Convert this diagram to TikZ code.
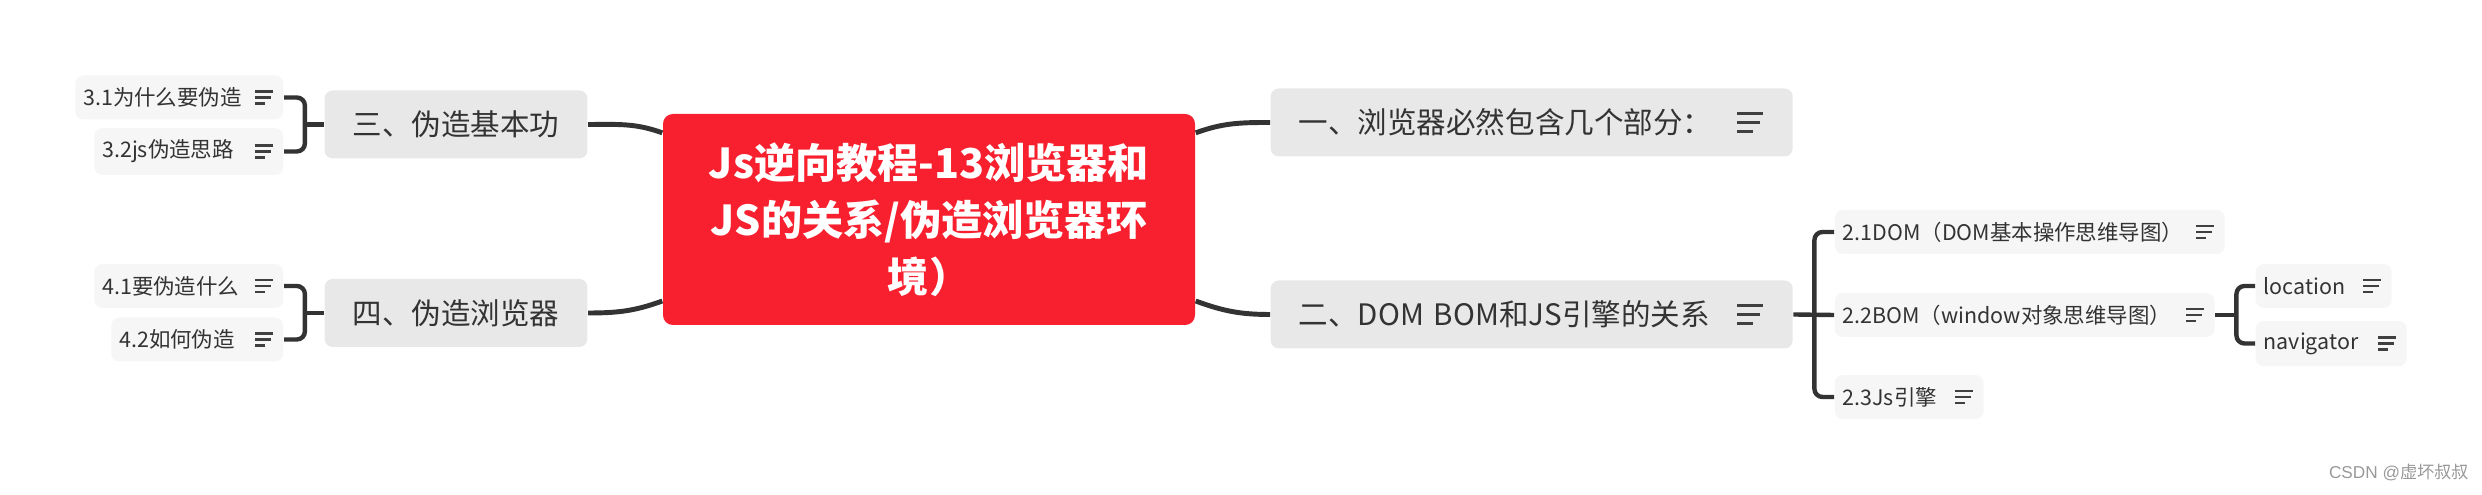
\documentclass[tikz,border=0pt]{standalone}
\usepackage{fontspec}
\setmainfont{Noto Sans CJK SC}
\newfontfamily\wmfont{Liberation Sans}
\usepackage{tikz}
\usetikzlibrary{positioning,calc}
\usepackage{xcolor}
\definecolor{rootred}{RGB}{248,32,47}
\definecolor{topicgray}{RGB}{232,232,232}
\definecolor{subgray}{RGB}{246,246,246}
\definecolor{linedark}{RGB}{51,51,51}
\definecolor{textdark}{RGB}{51,51,51}
\definecolor{markgray}{RGB}{64,64,64}
\newdimen\unitpx \unitpx=0.01cm
% note marks at the right end of a box
\newcommand{\topicnote}[1]{\draw[notemark, line width=0.75pt]
  ($(#1.east)+(-56,9)$) -- ++(26,0) ($(#1.east)+(-56,0)$) -- ++(23,0) ($(#1.east)+(-56,-9)$) -- ++(16,0);}
\newcommand{\subnote}[1]{\draw[notemark, line width=0.65pt]
  ($(#1.east)+(-29,6)$) -- ++(18,0) ($(#1.east)+(-29,0)$) -- ++(16,0) ($(#1.east)+(-29,-6)$) -- ++(10,0);}
\begin{document}
\begin{tikzpicture}[x=0.01cm,y=0.01cm,
  mainbox/.style={fill=rootred, rounded corners=2.8pt, text=white, align=center,
    font=\fontsize{11.7}{16.2}\selectfont\bfseries, minimum width=532\unitpx, minimum height=211\unitpx},
  topic/.style={fill=topicgray, rounded corners=2.3pt, text=textdark,
    font=\fontsize{8.4}{10}\selectfont, minimum height=68\unitpx, inner xsep=28\unitpx},
  subtopic/.style={fill=subgray, rounded corners=2.3pt, text=textdark, align=left,
    font=\fontsize{6.1}{7.5}\selectfont, minimum height=44\unitpx, inner xsep=8\unitpx},
  branch/.style={draw=linedark, line width=1.4pt},
  bracket/.style={draw=linedark, line width=1.25pt, rounded corners=2.3pt},
  notemark/.style={draw=markgray}]
\useasboundingbox (0,0) rectangle (2482,-495);

% centre
\node[mainbox] (root) at (929,-219.5) {Js逆向教程-13浏览器和\\JS的关系/伪造浏览器环\\境）};

% first level
\node[topic, anchor=west, text width=466\unitpx, align=left] (one) at (1270,-122.5) {一、浏览器必然包含几个部分：};
\node[topic, anchor=west, text width=466\unitpx, align=left] (two) at (1270,-314.5) {二、DOM BOM和JS引擎的关系};
\node[topic, minimum width=262\unitpx] (three) at (456,-124.5) {三、伪造基本功};
\node[topic, minimum width=262\unitpx] (four) at (456,-313) {四、伪造浏览器};
\topicnote{one}
\topicnote{two}

% second level
\node[subtopic, anchor=east, text width=192\unitpx] (s31) at (284,-97.5) {3.1为什么要伪造};
\node[subtopic, anchor=east, text width=173\unitpx] (s32) at (284,-151.5) {3.2js伪造思路};
\node[subtopic, anchor=east, text width=173\unitpx] (s41) at (284,-286) {4.1要伪造什么};
\node[subtopic, anchor=east, text width=156\unitpx] (s42) at (284,-339.5) {4.2如何伪造};
\node[subtopic, anchor=west, text width=374\unitpx] (s21) at (1834,-232) {2.1DOM（DOM基本操作思维导图）};
\node[subtopic, anchor=west, text width=364\unitpx] (s22) at (1834,-315) {2.2BOM（window对象思维导图）};
\node[subtopic, anchor=west, text width=133\unitpx] (s23) at (1834,-397) {2.3Js引擎};
\node[subtopic, anchor=west, text width=120\unitpx] (loc) at (2255,-286) {location};
\node[subtopic, anchor=west, text width=135\unitpx] (nav) at (2255,-343.5) {navigator};
\foreach \n in {s31,s32,s41,s42,s21,s22,s23,loc,nav} {\subnote{\n}}

% curves out of the centre
\draw[branch] (root.18) to[out=20,in=180] (one.west);
\draw[branch] (root.-17) to[out=-20,in=180] (two.west);
\draw[branch] (root.162) to[out=160,in=0] (three.east);
\draw[branch] (root.197) to[out=200,in=0] (four.east);

% brackets
\coordinate (b3) at ($(three.west)+(-19,0)$);
\coordinate (b4) at ($(four.west)+(-19,0)$);
\coordinate (b2) at ($(two.east)+(21,0)$);
\coordinate (b22) at ($(s22.east)+(21,0)$);
\draw[bracket] (three.west) -- (b3);
\draw[bracket] (s31.east) -| (b3) |- (s32.east);
\draw[bracket] (four.west) -- (b4);
\draw[bracket] (s41.east) -| (b4) |- (s42.east);
\draw[bracket] (two.east) -- (s22.west);
\draw[bracket] (s21.west) -| (b2) |- (s23.west);
\draw[bracket] (s22.east) -- (b22);
\draw[bracket] (loc.west) -| (b22) |- (nav.west);

% watermark
\node[text=gray!80, font=\fontsize{4.9}{6}\selectfont] (mark) at (2399,-472) {{\wmfont CSDN @}虚坏叔叔};
\end{tikzpicture}
\end{document}
